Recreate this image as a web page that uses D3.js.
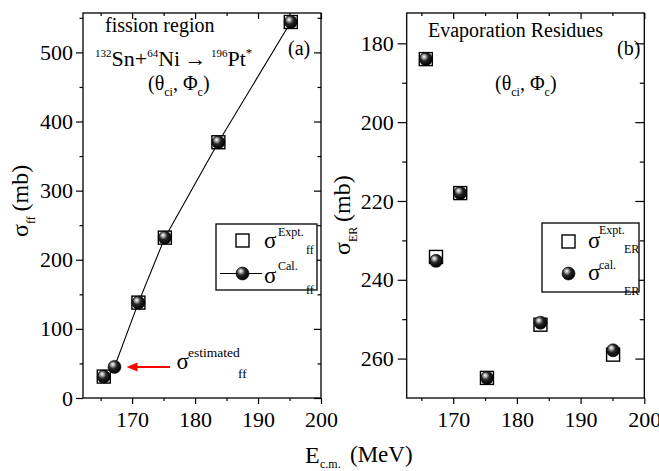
<!DOCTYPE html>
<html>
<head>
<meta charset="utf-8">
<script src="https://cdn.jsdelivr.net/npm/d3@7"></script>
<style>
body { margin: 0; background: #fff; }
</style>
</head>
<body>
<svg id="drawing_region"></svg>
<script>

// panel (a): fission cross sections
const ffExptE = [165.5, 171.0, 175.2, 183.7, 195.2];
const ffExpt  = [31, 138, 232, 370, 544];
const ffCalE  = [165.5, 167.2, 171.0, 175.2, 183.7, 195.2];
const ffCal   = [31, 45, 138, 232, 370, 544];
const ffEstimated = 1;   // index of the estimated point in ffCal

// panel (b): evaporation residues
const erE    = [165.7, 167.3, 171.1, 175.3, 183.7, 195.1];
const erExpt = [184.0, 234.2, 218.0, 264.9, 251.4, 259.0];
const erCal  = [184.0, 235.2, 218.0, 264.9, 250.9, 257.9];

// ticks
const xTicks  = [170, 180, 190, 200];
const xMinor  = [165, 175, 185, 195];
const ffTicks = [0, 100, 200, 300, 400, 500];
const ffMinor = [50, 150, 250, 350, 450, 550];
const erTicks = [180, 200, 220, 240, 260];
const erMinor = [190, 210, 230, 250];

const W = 659, H = 471;
const FONT_TICK = 22;
const SERIF = '"Liberation Serif", "Times New Roman", Times, "DejaVu Serif", serif';

const svg = d3.select('#drawing_region')
    .attr('width', W)
    .attr('height', H)
    .style('font-family', SERIF);

// shiny ball gradient
const grad = svg.append('defs')
    .append('radialGradient')
    .attr('id', 'ball')
    .attr('cx', '40%').attr('cy', '38%').attr('r', '62%')
    .attr('fx', '36%').attr('fy', '30%');
grad.append('stop').attr('offset', '0%').attr('stop-color', '#ffffff');
grad.append('stop').attr('offset', '18%').attr('stop-color', '#bdbdbd');
grad.append('stop').attr('offset', '50%').attr('stop-color', '#262626');
grad.append('stop').attr('offset', '100%').attr('stop-color', '#000000');

function square(g, cx, cy) {
    g.append('rect')
        .attr('x', cx - 6.5).attr('y', cy - 6.5)
        .attr('width', 13).attr('height', 13)
        .attr('fill', '#fff')
        .attr('stroke', '#000')
        .attr('stroke-width', 1.4);
}

function ball(g, cx, cy) {
    g.append('circle')
        .attr('cx', cx).attr('cy', cy).attr('r', 6.5)
        .attr('fill', 'url(#ball)')
        .attr('stroke', '#000')
        .attr('stroke-width', 0.6);
}

// text made of tspans: [text, size, dy]
function richText(g, x, y, parts, anchor) {
    const t = g.append('text')
        .attr('x', x).attr('y', y)
        .style('font-family', SERIF)
        .attr('text-anchor', anchor || 'start');
    parts.forEach(p => {
        t.append('tspan')
            .attr('font-size', p[1])
            .attr('dy', p[2] || 0)
            .text(p[0]);
    });
    return t;
}

function plainText(g, x, y, s, size) {
    g.append('text')
        .attr('x', x).attr('y', y)
        .style('font-family', SERIF)
        .attr('font-size', size)
        .text(s);
}

function drawPanel(cfg) {
    const g = svg.append('g');

    const xscale = d3.scaleLinear().domain(cfg.xDomain).range([cfg.left, cfg.right]);
    const yscale = d3.scaleLinear().domain(cfg.yDomain).range(cfg.yRange);

    const axis = (gen, tx, ty, values, size, pad, labels) => {
        const a = g.append('g')
            .attr('transform', `translate(${tx}, ${ty})`)
            .call(gen.tickValues(values).tickSize(size).tickPadding(pad).tickSizeOuter(0)
                .tickFormat(labels ? d3.format('d') : ''));
        a.select('.domain').remove();
        a.selectAll('line').attr('stroke', '#000').attr('stroke-width', 1.2);
        a.attr('font-size', FONT_TICK).style('font-family', SERIF);
        a.selectAll('text').style('font-family', SERIF).attr('fill', '#000');
        return a;
    };

    // bottom (outward) and top (inward)
    axis(d3.axisBottom(xscale), 0, cfg.bottom, xTicks, 6, 7.5, true);
    axis(d3.axisBottom(xscale), 0, cfg.bottom, xMinor, 3, 0, false);
    axis(d3.axisTop(xscale), 0, cfg.top, xTicks, -6, 0, false);
    axis(d3.axisTop(xscale), 0, cfg.top, xMinor, -3, 0, false);

    // left (outward) and right (inward)
    axis(d3.axisLeft(yscale), cfg.left, 0, cfg.yTicks, cfg.yTick, cfg.yPad, true);
    axis(d3.axisLeft(yscale), cfg.left, 0, cfg.yMinor, cfg.yTick / 2, 0, false);
    axis(d3.axisRight(yscale), cfg.right, 0, cfg.yTicks, -cfg.yTick, 0, false);
    axis(d3.axisRight(yscale), cfg.right, 0, cfg.yMinor, -cfg.yTick / 2, 0, false);

    // frame
    g.append('rect')
        .attr('x', cfg.left).attr('y', cfg.top)
        .attr('width', cfg.right - cfg.left)
        .attr('height', cfg.bottom - cfg.top)
        .attr('fill', 'none')
        .attr('stroke', '#000')
        .attr('stroke-width', 1.3);

    return { g, xscale, yscale };
}

// ---------------- panel (a) ----------------
const A = drawPanel({
    left: 83, right: 321, top: 13, bottom: 398,
    xDomain: [162.2, 200], yDomain: [0, 557], yRange: [398, 13],
    yTicks: ffTicks, yMinor: ffMinor, yTick: 7, yPad: 3
});

const ffLine = d3.line()
    .x(d => A.xscale(d[0]))
    .y(d => A.yscale(d[1]));
A.g.append('path')
    .datum(ffCalE.map((e, i) => [e, ffCal[i]]))
    .attr('d', ffLine)
    .attr('fill', 'none')
    .attr('stroke', '#000')
    .attr('stroke-width', 1.1);

ffExptE.forEach((e, i) => square(A.g, A.xscale(e), A.yscale(ffExpt[i])));
ffCalE.forEach((e, i) => ball(A.g, A.xscale(e), A.yscale(ffCal[i])));

// red arrow to the estimated point
{
    const tipX = A.xscale(ffCalE[ffEstimated]) + 12;
    const yy = A.yscale(ffCal[ffEstimated]);
    A.g.append('line')
        .attr('x1', 170).attr('y1', yy)
        .attr('x2', tipX + 8).attr('y2', yy)
        .attr('stroke', '#ff0000').attr('stroke-width', 2);
    A.g.append('path')
        .attr('d', `M${tipX},${yy} L${tipX + 11},${yy - 4.5} L${tipX + 11},${yy + 4.5} Z`)
        .attr('fill', '#ff0000');
    plainText(A.g, 176.5, yy + 2.5, 'σ', 23);
    plainText(A.g, 188, yy - 10, 'estimated', 13.5);
    plainText(A.g, 238, yy + 11, 'ff', 13.5);
}

plainText(A.g, 105, 32, 'fission region', 20);
plainText(A.g, 288, 55, '(a)', 20);
richText(A.g, 95, 66, [
    ['132', 11, -9], ['Sn+', 22, 9], ['64', 11, -9], ['Ni\u2009→\u2009', 22, 9],
    ['196', 11, -9], ['Pt', 22, 9], ['*', 13, -9]
]);
richText(A.g, 148, 90, [
    ['(θ', 20, 0], ['ci', 12, 6], [', Φ', 20, -6], ['c', 12, 6], [')', 20, -6]
]);

// legend (a)
A.g.append('rect')
    .attr('x', 216).attr('y', 224).attr('width', 101).attr('height', 66)
    .attr('fill', '#fff').attr('stroke', '#000').attr('stroke-width', 1.3);
square(A.g, 242.5, 240.5);
A.g.append('line')
    .attr('x1', 220).attr('x2', 262).attr('y1', 273.5).attr('y2', 273.5)
    .attr('stroke', '#000').attr('stroke-width', 1.1);
ball(A.g, 242.5, 273.5);
plainText(A.g, 264, 248, 'σ', 23);
plainText(A.g, 278, 236, 'Expt.', 12);
plainText(A.g, 306, 254, 'ff', 12);
plainText(A.g, 264, 283, 'σ', 23);
plainText(A.g, 278, 270, 'Cal.', 12);
plainText(A.g, 306, 294, 'ff', 12);

// y title (a)
richText(svg.append('g').attr('transform', 'translate(28, 237) rotate(-90)'), 0, 0, [
    ['σ', 24, 0], ['ff', 12, 7], ['\u2009(mb)', 24, -7]
]);

// ---------------- panel (b) ----------------
const B = drawPanel({
    left: 406.7, right: 644.3, top: 13, bottom: 398,
    xDomain: [162.7, 200], yDomain: [172.3, 270], yRange: [13, 398],
    yTicks: erTicks, yMinor: erMinor, yTick: 9, yPad: 4
});

erE.forEach((e, i) => square(B.g, B.xscale(e), B.yscale(erExpt[i])));
erE.forEach((e, i) => ball(B.g, B.xscale(e), B.yscale(erCal[i])));

plainText(B.g, 428, 37, 'Evaporation Residues', 20);
plainText(B.g, 617, 55, '(b)', 20);
richText(B.g, 495, 90, [
    ['(θ', 20, 0], ['ci', 12, 6], [', Φ', 20, -6], ['c', 12, 6], [')', 20, -6]
]);

// legend (b)
B.g.append('rect')
    .attr('x', 542).attr('y', 223).attr('width', 97).attr('height', 69)
    .attr('fill', '#fff').attr('stroke', '#000').attr('stroke-width', 1.3);
square(B.g, 568.5, 241.5);
ball(B.g, 568.5, 273.5);
plainText(B.g, 588, 248, 'σ', 23);
plainText(B.g, 599, 234, 'Expt.', 12);
plainText(B.g, 624, 253, 'ER', 12);
plainText(B.g, 588, 280, 'σ', 23);
plainText(B.g, 599, 269, 'cal.', 12);
plainText(B.g, 624, 295, 'ER', 12);

// y title (b)
richText(svg.append('g').attr('transform', 'translate(350, 255) rotate(-90)'), 0, 0, [
    ['σ', 24, 0], ['ER', 12, 7], ['\u2009(mb)', 24, -7]
]);

// x title
plainText(svg, 305, 463, 'E', 24);
plainText(svg, 320, 468, 'c.m.', 12);
plainText(svg, 350, 462, '(MeV)', 23);

</script>
</body>
</html>
